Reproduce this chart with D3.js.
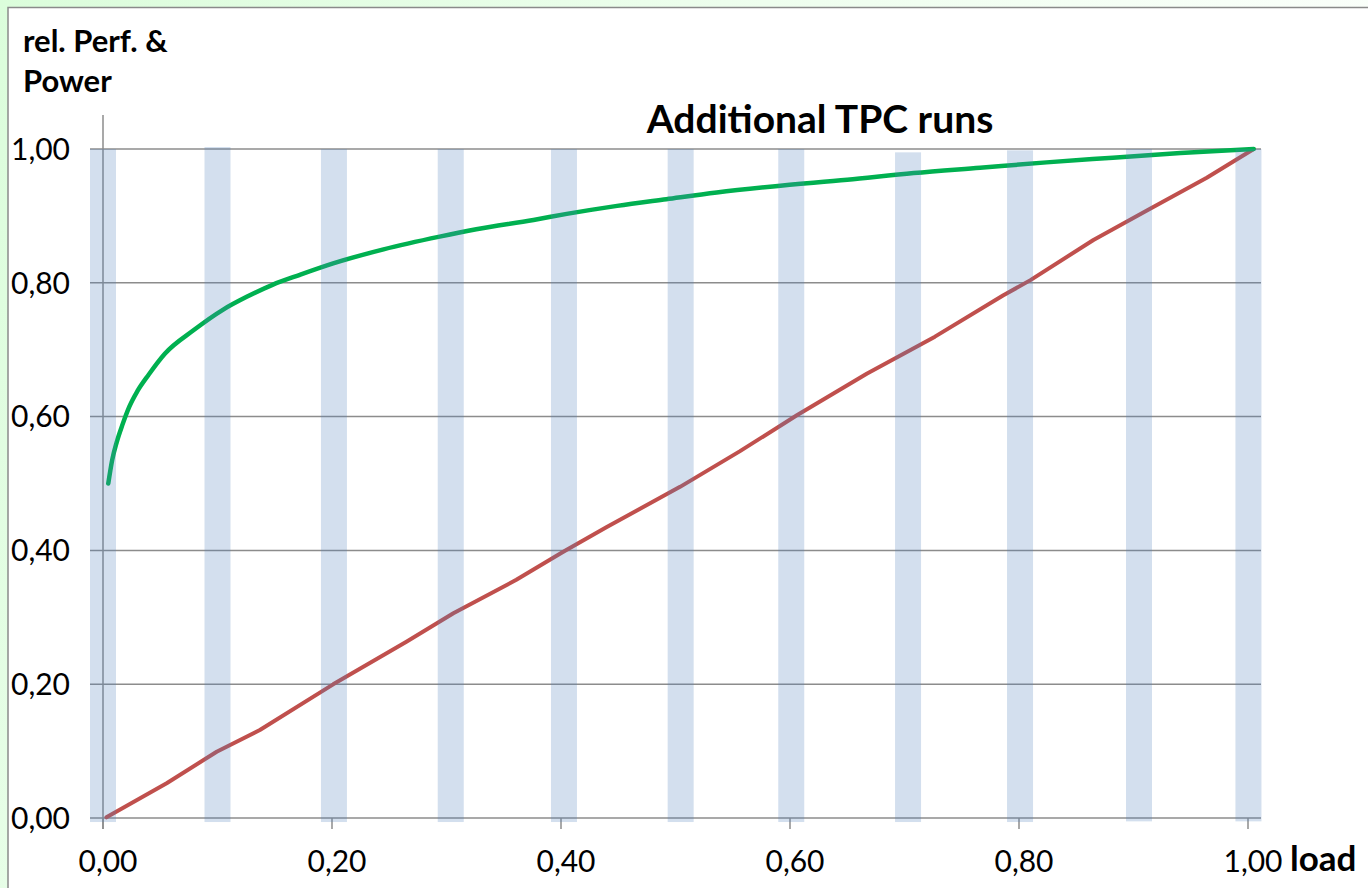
<!DOCTYPE html>
<html>
<head>
<meta charset="utf-8">
<script src="https://cdn.jsdelivr.net/npm/d3@7"></script>
<style>
  html, body { margin: 0; padding: 0; background: #ffffff; }
  svg { display: block; }
  text { font-family: Lato, "Open Sans", "Noto Sans", sans-serif; fill: #000; }
</style>
</head>
<body>
<svg id="chart" width="1368" height="888"></svg>
<script>
// ---------------- data ----------------
const chartTitle = "Additional TPC runs";
const yTitleLines = ["rel. Perf. &", "Power"];
const xTitle = "load";
const xTickValues = [0, 0.2, 0.4, 0.6, 0.8, 1.0];
const yTickValues = [0, 0.2, 0.4, 0.6, 0.8, 1.0];

// Performance (green) curve: load -> relative performance
const perfLoad = [0.0046, 0.008, 0.012, 0.017, 0.023, 0.030, 0.040, 0.054, 0.079, 0.105, 0.1255, 0.148, 0.172,
                  0.201, 0.245, 0.294, 0.326, 0.376, 0.405, 0.449, 0.492, 0.536, 0.585, 0.650, 0.708,
                  0.766, 0.824, 0.882, 0.941, 1.005];
const perfValue = [0.500, 0.535, 0.562, 0.588, 0.615, 0.638, 0.663, 0.694, 0.729, 0.760, 0.779, 0.797, 0.812,
                   0.829, 0.850, 0.869, 0.880, 0.894, 0.903, 0.915, 0.925, 0.935, 0.944, 0.954, 0.964,
                   0.972, 0.980, 0.987, 0.994, 1.000];

// Power (red) line: load -> relative power
const powerLoad = [0.003, 0.0556, 0.0993, 0.137, 0.201, 0.265, 0.306, 0.361, 0.402, 0.440, 0.504, 0.556,
                   0.606, 0.667, 0.7266, 0.786, 0.810, 0.865, 0.9125, 0.964, 1.005];
const powerValue = [0.001, 0.052, 0.099, 0.1315, 0.1998, 0.2636, 0.306, 0.356, 0.398, 0.435, 0.495, 0.548,
                    0.602, 0.664, 0.7195, 0.781, 0.804, 0.864, 0.9088, 0.957, 1.000];

// Light-blue marker columns (load positions of the TPC runs) and their span
const runLoad = [0.0, 0.100, 0.2017, 0.3037, 0.4026, 0.5045, 0.6011, 0.7031, 0.8009, 0.9048, 1.0004];
const runTop = [1.0, 1.003, 1.0, 1.0, 1.0, 1.0, 1.0, 0.995, 0.998, 1.0, 1.0];
const runBottom = [-0.006, -0.006, -0.006, -0.006, -0.006, -0.006, -0.006, -0.006, -0.006, -0.005, -0.005];

// ---------------- drawing ----------------
const svg = d3.select("#chart");
const W = 1368, H = 888;

const defs = svg.append("defs");
const grad = defs.append("linearGradient").attr("id", "bg")
  .attr("x1", "0").attr("y1", "0").attr("x2", "1").attr("y2", "0.35");
grad.append("stop").attr("offset", "0").attr("stop-color", "#dbfddb");
grad.append("stop").attr("offset", "0.5").attr("stop-color", "#eefeee");
grad.append("stop").attr("offset", "1").attr("stop-color", "#fdfffd");

svg.append("rect").attr("x", 0).attr("y", 0).attr("width", W).attr("height", H).attr("fill", "url(#bg)");
svg.append("rect").attr("x", 8).attr("y", 7.5).attr("width", W).attr("height", H)
  .attr("fill", "#ffffff").attr("stroke", "#8a8a8a").attr("stroke-width", 1.5);

const x = d3.scaleLinear().domain([0, 1]).range([103, 1248]);
const y = d3.scaleLinear().domain([0, 1]).range([818, 149]);
const fmt = d3.formatLocale({decimal: ",", thousands: ".", grouping: [3], currency: ["", "€"]}).format(".2f");

const gridColor = "#8c8c8c";
const plotLeft = 90, plotRight = 1261;

// horizontal gridlines (also y tick marks)
svg.append("g").selectAll("line").data(yTickValues).join("line")
  .attr("x1", plotLeft).attr("x2", plotRight)
  .attr("y1", d => y(d)).attr("y2", d => y(d))
  .attr("stroke", gridColor).attr("stroke-width", 1.5);

// vertical y axis line
svg.append("line").attr("x1", x(0)).attr("x2", x(0)).attr("y1", 115).attr("y2", 829)
  .attr("stroke", gridColor).attr("stroke-width", 1.5);

// x axis ticks
svg.append("g").selectAll("line").data(xTickValues).join("line")
  .attr("x1", d => x(d)).attr("x2", d => x(d))
  .attr("y1", y(0)).attr("y2", y(0) + 11)
  .attr("stroke", gridColor).attr("stroke-width", 1.5);

// y tick labels
svg.append("g").selectAll("text").data(yTickValues).join("text")
  .attr("x", 70).attr("y", d => y(d)).attr("dy", "0.36em")
  .attr("text-anchor", "end").attr("font-size", 30)
  .text(d => fmt(d));

// x tick labels
svg.append("g").selectAll("text").data(xTickValues).join("text")
  .attr("x", d => x(d) + 5).attr("y", 872)
  .attr("text-anchor", "middle").attr("font-size", 30)
  .text(d => fmt(d));

// lines
const perfLine = d3.line().x(d => x(d[0])).y(d => y(d[1])).curve(d3.curveMonotoneX);
const powerLine = d3.line().x(d => x(d[0])).y(d => y(d[1]));
svg.append("path").datum(powerLoad.map((l, i) => [l, powerValue[i]]))
  .attr("d", powerLine).attr("fill", "none").attr("stroke", "#c0504d")
  .attr("stroke-width", 4).attr("stroke-linejoin", "round").attr("stroke-linecap", "round");
svg.append("path").datum(perfLoad.map((l, i) => [l, perfValue[i]]))
  .attr("d", perfLine).attr("fill", "none").attr("stroke", "#00b050")
  .attr("stroke-width", 4.5).attr("stroke-linejoin", "round").attr("stroke-linecap", "round");

// semi-transparent run columns (drawn on top)
const barW = 26;
svg.append("g").selectAll("rect").data(runLoad).join("rect")
  .attr("x", d => x(d) - barW / 2)
  .attr("width", barW)
  .attr("y", (d, i) => y(runTop[i]))
  .attr("height", (d, i) => y(runBottom[i]) - y(runTop[i]))
  .attr("fill", "#4f81bd").attr("fill-opacity", 0.25);

// titles
svg.append("text").attr("x", 820).attr("y", 133).attr("text-anchor", "middle")
  .attr("font-size", 39).attr("font-weight", "bold").text(chartTitle);

svg.append("g").selectAll("text").data(yTitleLines).join("text")
  .attr("x", 23).attr("y", (d, i) => 52 + i * 40)
  .attr("font-size", 31).attr("font-weight", "bold").text(d => d);

svg.append("text").attr("x", 1290).attr("y", 871)
  .attr("font-size", 35).attr("font-weight", "bold").text(xTitle);
</script>
</body>
</html>
